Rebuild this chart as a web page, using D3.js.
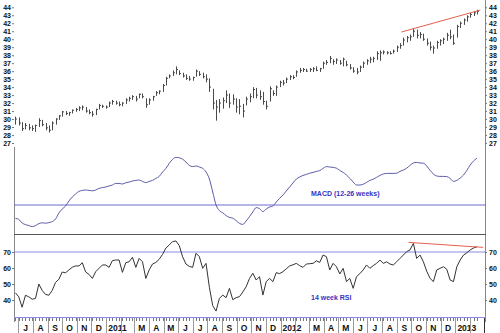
<!DOCTYPE html>
<html>
<head>
<meta charset="utf-8">
<script src="https://cdn.jsdelivr.net/npm/d3@7"></script>
<style>
  body { margin: 0; background: #fff; }
  text { font-family: "Liberation Sans", Arial, sans-serif; }
</style>
</head>
<body>
<div id="chart"></div>
<script>
"use strict"

/* canvas size */
let svgWidth = 500;
let svgHeight = 333;

/* first weekly bar (Friday) - every other bar follows one week later */
let firstWeek = new Date(2010, 5, 25);

/* weekly price bars */
let highs = [30.3, 30.2, 29.6, 29.5, 29.4, 29.2, 29.3, 30.1, 29.9, 29.5, 29.2, 29.7, 30.1, 30.5, 31.0, 31.0, 30.9, 31.2, 31.4, 31.6,
    31.7, 31.5, 31.2, 31.0, 31.3, 31.9, 31.8, 31.7, 32.2, 32.4, 32.3, 32.2, 32.1, 32.6, 32.8, 33.0, 32.9, 33.2, 33.2, 32.6,
    32.6, 32.9, 33.5, 33.6, 34.4, 35.3, 35.6, 36.1, 36.6, 36.1, 35.8, 35.6, 35.4, 35.3, 36.2, 36.0, 35.8, 35.6, 35.1, 33.8,
    32.4, 32.5, 32.7, 33.6, 33.2, 33.1, 32.6, 32.5, 31.9, 32.8, 33.2, 34.0, 33.9, 33.6, 33.4, 32.3, 34.1, 33.6, 34.2, 34.8,
    34.9, 35.2, 35.5, 35.5, 36.1, 36.4, 36.4, 36.3, 36.4, 36.5, 36.6, 36.4, 37.2, 37.4, 37.9, 37.5, 37.6, 37.4, 37.7, 37.3,
    36.9, 36.5, 36.4, 36.7, 37.2, 37.5, 37.8, 37.8, 38.5, 38.6, 38.6, 38.5, 38.5, 38.7, 39.2, 39.5, 40.2, 40.4, 40.6, 41.3,
    41.2, 40.9, 40.7, 40.1, 39.7, 39.2, 39.8, 40.0, 40.2, 40.8, 41.2, 40.6, 41.8, 42.2, 42.6, 43.0, 43.3, 43.5, 43.7];
let lows = [29.3, 29.2, 28.5, 28.7, 28.6, 28.5, 28.4, 29.0, 29.1, 28.6, 28.3, 28.6, 29.3, 29.9, 30.3, 30.5, 30.4, 30.7, 30.9, 31.0,
    31.1, 30.8, 30.6, 30.3, 30.5, 31.2, 31.4, 31.3, 31.5, 31.8, 31.8, 31.6, 31.6, 31.9, 32.2, 32.4, 32.2, 32.6, 32.6, 31.4,
    31.8, 32.3, 32.9, 33.1, 33.4, 34.2, 35.1, 35.4, 35.6, 35.5, 35.2, 34.9, 34.8, 34.8, 35.3, 35.4, 35.1, 34.6, 33.4, 31.2,
    29.8, 30.8, 31.3, 32.0, 31.4, 31.8, 30.8, 30.6, 30.2, 31.7, 32.1, 32.6, 32.6, 32.4, 31.8, 31.2, 32.2, 32.9, 32.9, 34.0,
    34.2, 34.5, 34.9, 35.0, 35.3, 35.8, 35.9, 35.9, 35.9, 35.9, 36.0, 35.9, 36.3, 36.8, 37.0, 36.8, 36.9, 36.8, 36.6, 36.6,
    36.2, 35.8, 35.6, 35.9, 36.4, 36.8, 37.0, 37.1, 37.4, 37.3, 38.1, 38.1, 38.1, 38.2, 38.4, 38.8, 39.2, 39.6, 39.8, 40.3,
    40.1, 40.1, 39.8, 39.2, 38.6, 38.2, 38.8, 39.2, 39.4, 39.8, 40.0, 39.3, 40.2, 41.4, 41.8, 42.2, 42.7, 42.9, 43.1];
let closes = [30.0, 29.5, 28.8, 29.2, 28.9, 28.8, 29.2, 29.8, 29.3, 28.9, 28.6, 29.5, 30.0, 30.4, 30.9, 30.7, 30.8, 31.1, 31.2, 31.4,
    31.5, 31.0, 30.8, 30.6, 31.2, 31.7, 31.6, 31.5, 32.0, 32.2, 32.0, 31.8, 32.0, 32.4, 32.6, 32.8, 32.5, 33.1, 32.8, 31.8,
    32.4, 32.8, 33.3, 33.5, 34.2, 35.1, 35.4, 35.8, 36.2, 35.7, 35.4, 35.1, 35.0, 35.2, 36.0, 35.6, 35.3, 35.0, 34.0, 32.0,
    31.5, 32.0, 32.3, 33.0, 32.0, 32.5, 31.5, 31.6, 31.0, 32.5, 32.8, 33.7, 33.0, 32.8, 32.2, 31.6, 33.8, 33.2, 34.0, 34.6,
    34.5, 35.0, 35.3, 35.2, 35.9, 36.1, 36.2, 36.0, 36.2, 36.3, 36.1, 36.3, 37.0, 37.1, 37.6, 37.2, 37.4, 37.0, 37.5, 36.8,
    36.4, 36.0, 35.9, 36.5, 37.0, 37.3, 37.5, 37.6, 38.2, 38.3, 38.4, 38.3, 38.2, 38.5, 39.0, 39.2, 39.9, 40.2, 40.3, 41.0,
    40.5, 40.6, 40.0, 39.5, 39.0, 38.9, 39.6, 39.8, 40.0, 40.5, 40.3, 39.5, 41.6, 42.0, 42.4, 42.8, 43.1, 43.3, 43.5];

/* MACD (12-26 weeks), one value per week */
let macd = [-0.67, -0.72, -0.90, -0.98, -1.03, -1.08, -1.03, -0.93, -0.89, -0.91, -0.88, -0.83, -0.70, -0.40, -0.20, -0.05, 0.20, 0.40, 0.55, 0.68,
    0.73, 0.75, 0.73, 0.71, 0.75, 0.83, 0.87, 0.90, 0.95, 1.00, 1.08, 1.08, 1.05, 1.11, 1.15, 1.20, 1.23, 1.25, 1.18, 1.12,
    1.18, 1.23, 1.33, 1.43, 1.65, 1.83, 2.08, 2.28, 2.38, 2.36, 2.29, 2.15, 1.98, 1.92, 1.95, 1.90, 1.83, 1.65, 1.30, 0.65,
    0.00, -0.28, -0.39, -0.53, -0.62, -0.66, -0.78, -0.92, -0.97, -0.80, -0.58, -0.35, -0.13, -0.18, -0.33, -0.20, -0.10, -0.05, 0.15, 0.33,
    0.50, 0.70, 0.90, 1.10, 1.30, 1.40, 1.48, 1.53, 1.59, 1.63, 1.68, 1.72, 1.83, 1.92, 1.90, 1.88, 1.84, 1.73, 1.63, 1.50,
    1.33, 1.15, 1.00, 1.00, 1.04, 1.13, 1.23, 1.29, 1.38, 1.48, 1.55, 1.58, 1.58, 1.58, 1.59, 1.68, 1.75, 1.84, 1.98, 2.10,
    2.13, 2.10, 2.09, 1.95, 1.73, 1.55, 1.45, 1.43, 1.43, 1.42, 1.33, 1.18, 1.23, 1.35, 1.50, 1.73, 2.00, 2.20, 2.34];

/* 14 week RSI, one value per week */
let rsi = [44.5, 42.0, 35.5, 43.0, 42.0, 40.5, 41.0, 50.0, 46.0, 43.5, 43.0, 46.0, 51.0, 53.0, 57.5, 57.0, 58.8, 60.5, 61.3, 61.3,
    63.3, 57.5, 56.0, 53.5, 57.7, 59.8, 61.9, 61.9, 60.4, 64.6, 65.0, 65.0, 57.3, 63.3, 63.9, 66.7, 60.4, 66.0, 63.9, 53.5,
    58.8, 62.5, 63.5, 65.5, 68.5, 72.5, 74.4, 76.5, 76.9, 74.0, 67.0, 62.5, 61.0, 60.4, 69.2, 67.1, 59.8, 62.9, 48.0, 36.5,
    33.1, 41.0, 43.1, 41.5, 47.3, 40.2, 41.5, 42.1, 45.0, 48.3, 53.5, 56.7, 52.5, 54.6, 43.1, 51.5, 53.5, 51.5, 57.1, 56.5,
    57.7, 59.5, 61.3, 62.0, 62.9, 61.5, 60.4, 62.5, 62.7, 62.9, 64.5, 63.5, 68.1, 67.1, 58.8, 62.9, 60.8, 56.3, 59.8, 51.5,
    53.5, 47.3, 54.6, 56.5, 58.8, 61.9, 59.8, 61.5, 62.9, 65.0, 62.9, 63.9, 62.5, 61.9, 63.9, 66.0, 68.1, 70.2, 71.3, 75.4,
    66.0, 68.1, 63.9, 58.0, 53.5, 51.5, 58.8, 59.8, 60.8, 59.2, 52.5, 51.5, 60.8, 65.0, 68.1, 69.5, 71.3, 72.5, 73.2];

/* red trend lines: [date, value] end points */
let priceTrend = [[new Date(2012, 8, 10), 40.9], [new Date(2013, 1, 22), 43.65]];
let rsiTrend = [[new Date(2012, 8, 25), 76.0], [new Date(2013, 1, 28), 72.9]];

/* tick labels (Feb is left out, Jan shows the year) */
let priceTicks = d3.range(27, 45);
let rsiTicks = [40, 50, 60, 70];
let monthLetters = ["", "", "M", "A", "M", "J", "J", "A", "S", "O", "N", "D"];

let weeks = highs.map(function (d, i) {
    return d3.timeDay.offset(firstWeek, i * 7);
});

let svg = d3.select("#chart")
    .append("svg")
    .attr("width", svgWidth)
    .attr("height", svgHeight);

/* scales */
let xScale = d3.scaleTime()
    .domain([new Date(2010, 5, 22), new Date(2013, 2, 4)])
    .range([14, 485]);

let priceScale = d3.scaleLinear()
    .domain([27, 44])
    .range([143, 7.3]);

let macdScale = d3.scaleLinear()
    .domain([-1.45, 2.85])
    .range([234, 148]);

let rsiScale = d3.scaleLinear()
    .domain([29.4, 81.25])
    .range([317, 234]);

function px(d) {
    return Math.round(xScale(d)) + 0.5;
}

/* frame lines */
svg.append("line")
    .attr("x1", 485.5).attr("x2", 485.5)
    .attr("y1", 0).attr("y2", 322)
    .attr("stroke", "#888");

svg.append("line")
    .attr("x1", 14.5).attr("x2", 14.5)
    .attr("y1", 147).attr("y2", 322)
    .attr("stroke", "#888");

svg.append("line")
    .attr("x1", 14).attr("x2", 486)
    .attr("y1", 234.5).attr("y2", 234.5)
    .attr("stroke", "#555");

/* MACD zero line, RSI 70 line and RSI bottom line */
svg.append("line")
    .attr("x1", 14).attr("x2", 486)
    .attr("y1", macdScale(0)).attr("y2", macdScale(0))
    .attr("stroke", "#6a6ad0");

svg.append("line")
    .attr("x1", 14).attr("x2", 486)
    .attr("y1", rsiScale(70)).attr("y2", rsiScale(70))
    .attr("stroke", "#8a8ae6");

svg.append("line")
    .attr("x1", 14).attr("x2", 486)
    .attr("y1", 317.5).attr("y2", 317.5)
    .attr("stroke", "#8a8ae6");

/* price bars: high-low line and close tick */
let bars = svg.append("g")
    .attr("stroke", "#4a4a4a")
    .attr("stroke-width", 1);

weeks.forEach(function (d, i) {
    bars.append("line")
        .attr("x1", px(d)).attr("x2", px(d))
        .attr("y1", priceScale(highs[i]))
        .attr("y2", priceScale(lows[i]));
    bars.append("line")
        .attr("x1", px(d)).attr("x2", px(d) + 1.5)
        .attr("y1", priceScale(closes[i]))
        .attr("y2", priceScale(closes[i]));
});

/* MACD line */
svg.append("path")
    .datum(macd)
    .attr("fill", "none")
    .attr("stroke", "#5c5ca8")
    .attr("stroke-width", 1)
    .attr("d", d3.line()
        .curve(d3.curveMonotoneX)
        .x(function (d, i) { return xScale(weeks[i]); })
        .y(function (d) { return macdScale(d); }));

/* RSI line */
svg.append("path")
    .datum(rsi)
    .attr("fill", "none")
    .attr("stroke", "#333")
    .attr("stroke-width", 1)
    .attr("d", d3.line()
        .x(function (d, i) { return xScale(weeks[i]); })
        .y(function (d) { return rsiScale(d); }));

/* red trend lines */
svg.append("line")
    .attr("x1", xScale(priceTrend[0][0])).attr("y1", priceScale(priceTrend[0][1]))
    .attr("x2", xScale(priceTrend[1][0])).attr("y2", priceScale(priceTrend[1][1]))
    .attr("stroke", "#e5604f");

svg.append("line")
    .attr("x1", xScale(rsiTrend[0][0])).attr("y1", rsiScale(rsiTrend[0][1]))
    .attr("x2", xScale(rsiTrend[1][0])).attr("y2", rsiScale(rsiTrend[1][1]))
    .attr("stroke", "#e5604f");

/* panel titles */
svg.append("text")
    .attr("x", 311).attr("y", 196)
    .attr("fill", "#3434c4")
    .style("font-size", "7px")
    .style("font-weight", "bold")
    .text("MACD (12-26 weeks)");

svg.append("text")
    .attr("x", 311).attr("y", 300)
    .attr("fill", "#3434c4")
    .style("font-size", "7px")
    .style("font-weight", "bold")
    .text("14 week RSI");

/* y axes */
function styleAxis(g) {
    g.select(".domain").remove();
    g.selectAll("line").attr("stroke", "#777");
    g.selectAll("text")
        .style("font-size", "7px")
        .style("font-weight", "bold")
        .attr("fill", "#111");
}

svg.append("g")
    .attr("transform", "translate(14,0)")
    .call(d3.axisLeft(priceScale).tickValues(priceTicks).tickSize(2).tickPadding(1))
    .call(styleAxis);

svg.append("g")
    .attr("transform", "translate(485,0)")
    .call(d3.axisRight(priceScale).tickValues(priceTicks).tickSize(2).tickPadding(2))
    .call(styleAxis);

svg.append("g")
    .attr("transform", "translate(14,0)")
    .call(d3.axisLeft(rsiScale).tickValues(rsiTicks).tickSize(2).tickPadding(1))
    .call(styleAxis);

svg.append("g")
    .attr("transform", "translate(485,0)")
    .call(d3.axisRight(rsiScale).tickValues(rsiTicks).tickSize(2).tickPadding(2))
    .call(styleAxis);

/* x axis: weekly ticks, month dividers and labels */
let xAxis = svg.append("g");

weeks.forEach(function (d) {
    xAxis.append("line")
        .attr("x1", px(d)).attr("x2", px(d))
        .attr("y1", 318).attr("y2", 321)
        .attr("stroke", "#777");
});

let months = d3.timeMonth.range(new Date(2010, 6, 1), new Date(2013, 2, 2));
let lastMonth = months[months.length - 1];

months.forEach(function (m) {
    let x0 = xScale(m);
    let x1 = xScale(d3.timeMonth.offset(m, 1));
    xAxis.append("line")
        .attr("x1", Math.round(x0) + 0.5).attr("x2", Math.round(x0) + 0.5)
        .attr("y1", 318).attr("y2", 333)
        .attr("stroke", m == lastMonth ? "#333" : "#999");

    if (m == lastMonth) {
        return; // month cut off at the right edge, no label
    }
    if (m.getMonth() == 0) {
        xAxis.append("text")
            .attr("x", x0 + 2)
            .attr("y", 331)
            .style("font-size", "8.5px")
            .style("font-weight", "bold")
            .attr("fill", "#111")
            .text(m.getFullYear());
    }
    else if (monthLetters[m.getMonth()] != "") {
        xAxis.append("text")
            .attr("x", (x0 + x1) / 2)
            .attr("y", 331)
            .style("text-anchor", "middle")
            .style("font-size", "8.5px")
            .style("font-weight", "bold")
            .attr("fill", "#111")
            .text(monthLetters[m.getMonth()]);
    }
});
</script>
</body>
</html>
